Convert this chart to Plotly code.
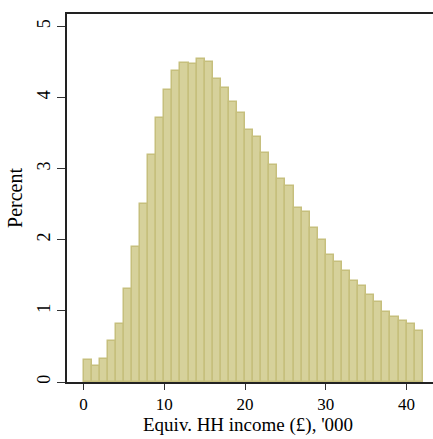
import plotly.graph_objects as go

bin_left = list(range(0, 42))
percent = [0.31, 0.23, 0.33, 0.575, 0.81, 1.31, 1.90, 2.51, 3.19, 3.71,
           4.10, 4.37, 4.49, 4.47, 4.54, 4.50, 4.26, 4.13, 3.94, 3.78,
           3.55, 3.44, 3.22, 3.05, 2.86, 2.75, 2.45, 2.39, 2.16, 1.99,
           1.78, 1.69, 1.56, 1.42, 1.35, 1.22, 1.12, 0.99, 0.92, 0.86,
           0.81, 0.72]
x_ticks = [0, 10, 20, 30, 40]
y_ticks = [0, 1, 2, 3, 4, 5]
x_title = "Equiv. HH income (£), '000"

centers = [b + 0.5 for b in bin_left]

fig = go.Figure(go.Bar(
    x=centers, y=percent, width=1,
    marker=dict(color="#d6d19b", line=dict(color="#c6bf7d", width=1.5)),
))

font = "Liberation Serif"
H, T, B = 439, 14, 57
plot_h = H - T - B
fig.update_layout(
    width=433, height=H,
    margin=dict(l=67, r=0, t=T, b=B),
    paper_bgcolor="white", plot_bgcolor="white",
    showlegend=False, bargap=0,
    font=dict(family=font, size=20, color="black"),
    xaxis=dict(range=[-2.05, 43.27], tickvals=x_ticks, ticks="outside", ticklen=6,
               tickwidth=1.2, tickcolor="#333", showline=True, linecolor="#222",
               linewidth=1.5, mirror=True, showgrid=False, zeroline=False,
               tickfont=dict(family=font, size=17)),
    yaxis=dict(range=[0, 5.175], tickvals=y_ticks, ticks="outside", ticklen=8,
               tickwidth=1.2, tickcolor="#333", showline=True, linecolor="#222",
               linewidth=1.5, showgrid=False, zeroline=False, tickangle=-90,
               tickfont=dict(family=font, size=18),
               title=dict(text="Percent", standoff=6,
                          font=dict(family=font, size=20))),
    annotations=[dict(text=x_title, xref="x", x=20.3, yref="paper",
                      y=-(B - 1) / plot_h, yanchor="bottom", xanchor="center",
                      showarrow=False, font=dict(family=font, size=19))],
)

fig.write_html("out.html", config={"displayModeBar": False},
               post_script="document.body.style.margin='0';document.body.style.overflow='hidden';")
